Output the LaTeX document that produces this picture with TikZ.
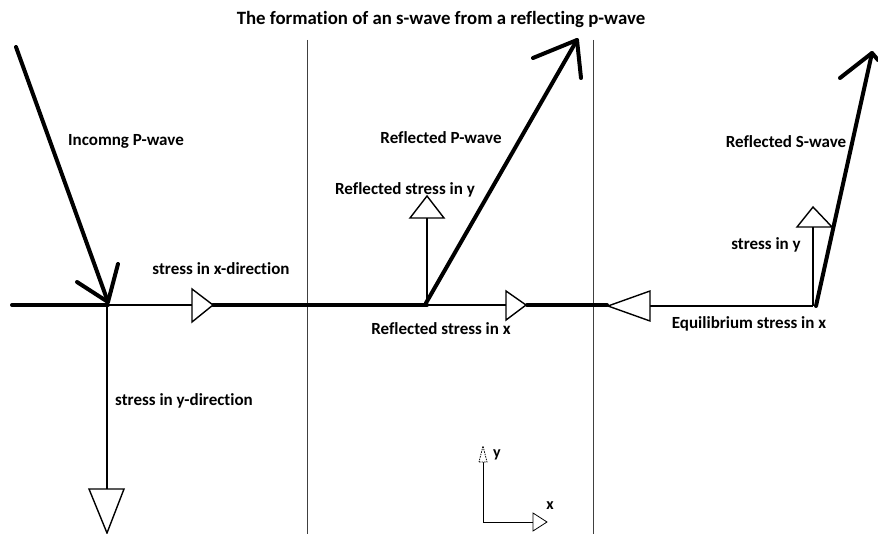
\documentclass[tikz,border=0pt]{standalone}
\usepackage{fontspec}
\setmainfont{Carlito}[Ligatures=CommonOff]
\begin{document}
\begin{tikzpicture}[x=1pt,y=-1pt,
  lbl/.style={font=\fontsize{17}{19}\selectfont\bfseries, inner sep=0pt},
  axl/.style={font=\fontsize{16}{18}\selectfont\bfseries, inner sep=0pt},
  ttl/.style={font=\fontsize{18.8}{21}\selectfont\bfseries, inner sep=0pt},
  heavy/.style={line width=4pt, line cap=round, line join=round},
  thinline/.style={line width=1.2pt},
  divider/.style={line width=1pt, black!75},
  tri/.style={line width=1.4pt, fill=white, line join=miter}]
\useasboundingbox (0,0) rectangle (878,534);

% coordinates
\coordinate (inS) at (16,47);
\coordinate (inE) at (108,302);
\coordinate (inB1) at (77,282);
\coordinate (inB2) at (118,264);
\coordinate (lft) at (12,305);
\coordinate (o1) at (108,305);
\coordinate (t1) at (192,305);
\coordinate (t1e) at (213,305);
\coordinate (o2) at (427,305);
\coordinate (t2) at (506,305);
\coordinate (t2e) at (527,305);
\coordinate (t3e) at (607,305);
\coordinate (t3b) at (650,306);
\coordinate (o3) at (813,306);
\coordinate (y1e) at (107,489);
\coordinate (y2e) at (427,218);
\coordinate (y3e) at (813,227);
\coordinate (rpE) at (577,40);
\coordinate (rpB1) at (533,58);
\coordinate (rpB2) at (581,78);
\coordinate (rsS) at (816,306);
\coordinate (rsE) at (872,53);
\coordinate (rsB1) at (840,78);
\coordinate (d1t) at (307,40);
\coordinate (d1b) at (307,534);
\coordinate (d2t) at (593,40);
\coordinate (d2b) at (593,534);
\coordinate (ax) at (483,522);
\coordinate (axy) at (483,462);
\coordinate (axx) at (533,522);

% dividers
\draw[divider] (d1t) -- (d1b);
\draw[divider] (d2t) -- (d2b);

% baseline pieces
\draw[heavy] (lft) -- (o1);
\draw[thinline] (o1) -- (t1);
\draw[heavy] (t1e) -- (o2);
\draw[thinline] (o2) -- (t2);
\draw[heavy] (t2e) -- (t3e);
\draw[thinline] (t3b) -- (o3);

% stress lines
\draw[thinline] (107,305) -- (y1e);
\draw[thinline] (o2) -- (y2e);
\draw[thinline] (o3) -- (y3e);

% triangles
\draw[tri] (192,289) -- (192,322) -- (213,305) -- cycle;
\draw[tri] (89,489) -- (124,489) -- (107,533) -- cycle;
\draw[tri] (410,218) -- (444,218) -- (427,196) -- cycle;
\draw[tri] (506,291) -- (506,320) -- (526,305) -- cycle;
\draw[tri] (650,291) -- (650,321) -- (608,306) -- cycle;
\draw[tri] (797,227) -- (832,227) -- (813,207) -- cycle;

% incoming P-wave
\draw[heavy] (inS) -- (inE);
\draw[heavy] (inB1) -- (inE) -- (inB2);

% reflected P-wave
\draw[heavy] (426,303) -- (rpE);
\draw[heavy] (rpB1) -- (rpE) -- (rpB2);

% reflected S-wave
\draw[heavy] (rsS) -- (rsE);
\draw[heavy] (rsB1) -- (rsE) -- (878,60);

% axes
\draw[line width=1pt] (axy) -- (ax) -- (axx);
\draw[line width=0.8pt, dashed, dash pattern=on 1.5pt off 1pt, fill=white] (479,462) -- (487,462) -- (483,446) -- cycle;
\draw[line width=0.8pt, fill=white] (533,513) -- (533,531) -- (547,522) -- cycle;
\node[axl] (ly) at (497,455) {y};
\node[axl] (lx) at (550,506) {x};

% texts
\node[ttl] (title) at (441,20) {The formation of an s-wave from a reflecting p-wave};
\node[lbl] (inc) at (126,141) {Incomng P-wave};
\node[lbl] (sx) at (221,269) {stress in x-direction};
\node[lbl] (sy) at (184,401) {stress in y-direction};
\node[lbl] (rp) at (441,138) {Reflected P-wave};
\node[lbl] (rsy) at (405,190) {Reflected stress in y};
\node[lbl] (rsx) at (441,329) {Reflected stress in x};
\node[lbl] (rs) at (786,142) {Reflected S-wave};
\node[lbl] (sy2) at (766,245) {stress in y};
\node[lbl] (eq) at (749,324) {Equilibrium stress in x};
\end{tikzpicture}
\end{document}
